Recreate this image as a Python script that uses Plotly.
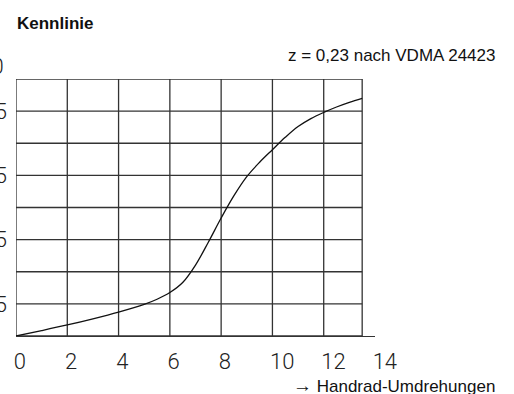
import plotly.graph_objects as go

# Handwheel characteristic: turns of the handwheel vs. relative flow
turns = [0, 1, 2, 3, 4, 5, 5.5, 6, 6.5, 7, 7.5, 8, 8.5, 9, 9.5, 10,
         10.5, 11, 11.5, 12, 12.5, 13, 13.5]
flow = [0, 2.1, 4.3, 6.7, 9.3, 12.3, 14.3, 16.9, 20.8, 27.6, 36.5, 45.9,
        54.6, 62.0, 67.6, 72.5, 77.3, 81.5, 84.6, 87.0, 89.1, 90.9, 92.5]

x_ticks = [0, 2, 4, 6, 8, 10, 12, 14]
x_grid = [0, 2, 4, 6, 8, 10, 12, 13.5]
y_grid = [0, 12.5, 25, 37.5, 50, 62.5, 75, 87.5, 100]
y_ticks = [12.5, 37.5, 62.5, 87.5]
y_tick_text = ["12,5", "37,5", "62,5", "87,5"]
y_top_label = "100"

W, H = 514, 394
ML, MR, MT, MB = 16, 139, 79, 58
PW, PH = W - ML - MR, H - MT - MB


def px_to_paper(px, py):
    return (px - ML) / PW, (H - MB - py) / PH


grid_color = "#333333"
tick_font = dict(family="Roboto", size=22, color="#222222", weight=300)
label_font = dict(family="Liberation Sans", size=17, color="#111111")

fig = go.Figure()

fig.add_trace(go.Scatter(
    x=turns, y=flow, mode="lines",
    line=dict(color="#111111", width=1.3, shape="spline", smoothing=1.0),
    hoverinfo="skip", showlegend=False,
))

shapes = []
for gx in x_grid:
    shapes.append(dict(type="line", xref="x", yref="y", x0=gx, x1=gx,
                       y0=y_grid[0], y1=y_grid[-1],
                       line=dict(color=grid_color, width=1.3), layer="below"))
for gy in y_grid:
    shapes.append(dict(type="line", xref="x", yref="y", x0=x_grid[0], x1=x_grid[-1],
                       y0=gy, y1=gy,
                       line=dict(color=grid_color, width=1.3), layer="below"))

ann = []
kx, ky = px_to_paper(15, 23)
ann.append(dict(text="<b>Kennlinie</b>", xref="paper", yref="paper", x=kx, y=ky,
                xanchor="left", yanchor="middle", showarrow=False,
                font=dict(family="Liberation Sans", size=17, color="#111111")))
zx, zy = px_to_paper(497, 55)
ann.append(dict(text="z = 0,23 nach VDMA 24423", xref="paper", yref="paper", x=zx, y=zy,
                xanchor="right", yanchor="middle", showarrow=False, font=label_font))
hx, hy = px_to_paper(497, 385)
ann.append(dict(text="<span style='font-size:19px'>→</span> Handrad-Umdrehungen",
                xref="paper", yref="paper", x=hx, y=hy,
                xanchor="right", yanchor="middle", showarrow=False, font=label_font))
tx, ty = px_to_paper(6, 67)
ann.append(dict(text=y_top_label, xref="paper", yref="paper", x=tx, y=ty,
                xanchor="right", yanchor="middle", showarrow=False, font=tick_font))

fig.update_layout(
    width=W, height=H,
    margin=dict(l=ML, r=MR, t=MT, b=MB, pad=0),
    paper_bgcolor="white", plot_bgcolor="white",
    shapes=shapes, annotations=ann,
    xaxis=dict(range=[0, 14], tickvals=x_ticks, ticktext=[str(v) for v in x_ticks],
               showgrid=False, zeroline=False, showline=True, linecolor=grid_color,
               linewidth=1.3, ticks="", ticklabelposition="outside right",
               ticklabelshift=-3, ticklabelstandoff=5, tickfont=tick_font,
               automargin=False),
    yaxis=dict(range=[0, 100], tickvals=y_ticks, ticktext=y_tick_text,
               showgrid=False, zeroline=False, showline=False, ticks="",
               ticklabelstandoff=8, tickfont=tick_font, automargin=False),
)

fig.write_html("out.html")
